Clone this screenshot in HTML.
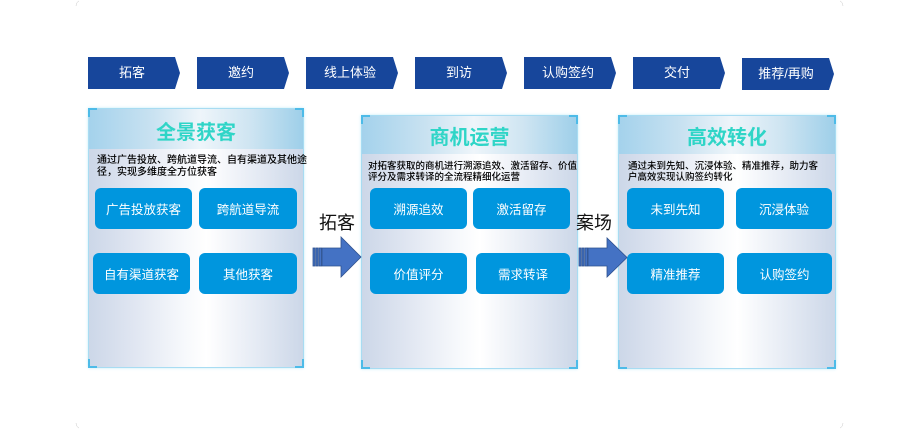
<!DOCTYPE html>
<html><head><meta charset="utf-8">
<style>
*{margin:0;padding:0;box-sizing:border-box}
body{width:920px;height:429px;background:#fff;position:relative;overflow:hidden;font-family:"Liberation Sans","Noto Sans CJK SC",sans-serif}
.chev{position:absolute;top:57px;width:92px;height:32px;background:#17469b;color:#fff;font-size:13px;line-height:32px;text-align:center;padding-right:4px;clip-path:polygon(0 0,calc(100% - 5px) 0,100% 50%,calc(100% - 5px) 100%,0 100%)}
.panel{position:absolute;border:1px solid #a8dcf2;box-shadow:0 0 3px #c4ecf9;background:linear-gradient(to right,#ccd7e8 0%,#dfe5f1 20%,#f7f9fc 45%,#ffffff 55%,#e3e9f3 80%,#ccd7e8 100%)}
.hdr{position:absolute;left:0;top:0;right:0;background:linear-gradient(to right,#a4d2ec 0%,#c9e2f1 30%,#eef5fa 52%,#cfe5f2 75%,#9ecfe9 100%)}
.ttl{position:absolute;left:0;right:0;text-align:center;font-weight:bold;font-size:20px;color:#2fd5c7;font-family:"Noto Sans CJK SC",sans-serif}
.desc{position:absolute;color:#000;white-space:nowrap;font-family:"Noto Sans CJK SC",sans-serif;font-weight:500}
.btn{position:absolute;background:#0096de;color:#fff;border-radius:6px;font-size:12.5px;text-align:center;width:97px;height:41px;line-height:41px;font-family:"Noto Sans CJK SC",sans-serif}
.c{position:absolute;width:9px;height:9px;border-color:#4dbbe8;border-style:solid;border-width:0}
.tl{left:-1px;top:-1px;border-left-width:2px;border-top-width:2px}
.tr{right:-1px;top:-1px;border-right-width:2px;border-top-width:2px}
.bl{left:-1px;bottom:-1px;border-left-width:2px;border-bottom-width:2px}
.br{right:-1px;bottom:-1px;border-right-width:2px;border-bottom-width:2px}
.lbl{position:absolute;font-size:18px;color:#111;font-family:"Noto Sans CJK SC",sans-serif;line-height:20px}
</style></head><body>

<div class="chev" style="left:88px">拓客</div>
<div class="chev" style="left:197px">邀约</div>
<div class="chev" style="left:306px">线上体验</div>
<div class="chev" style="left:415px">到访</div>
<div class="chev" style="left:524px">认购签约</div>
<div class="chev" style="left:633px">交付</div>
<div class="chev" style="left:742px;top:58px">推荐/再购</div>

<!-- Panel 1 -->
<div class="panel" style="left:88px;top:108px;width:216px;height:260px">
  <div class="hdr" style="height:40px"></div>
  <div class="ttl" style="top:9px;line-height:26px">全景获客</div>
  <div class="desc" style="left:8px;top:44px;font-size:10px;line-height:11.5px">通过广告投放、跨航道导流、自有渠道及其他途<br>径，实现多维度全方位获客</div>
  <div class="c tl"></div><div class="c tr"></div><div class="c bl"></div><div class="c br"></div>
</div>
<div class="btn" style="left:95px;top:188px">广告投放获客</div>
<div class="btn" style="left:199px;top:188px;width:98px">跨航道导流</div>
<div class="btn" style="left:93px;top:253px">自有渠道获客</div>
<div class="btn" style="left:199px;top:253px;width:98px">其他获客</div>

<!-- Panel 2 -->
<div class="panel" style="left:361px;top:115px;width:217px;height:254px">
  <div class="hdr" style="height:38px"></div>
  <div class="ttl" style="top:7px;line-height:26px">商机运营</div>
  <div class="desc" style="left:6px;top:44px;font-size:9.5px;line-height:11px">对拓客获取的商机进行溯源追效、激活留存、价值<br>评分及需求转译的全流程精细化运营</div>
  <div class="c tl"></div><div class="c tr"></div><div class="c bl"></div><div class="c br"></div>
</div>
<div class="btn" style="left:370px;top:188px">溯源追效</div>
<div class="btn" style="left:473px;top:188px">激活留存</div>
<div class="btn" style="left:370px;top:253px">价值评分</div>
<div class="btn" style="left:476px;top:253px;width:94px">需求转译</div>

<!-- Panel 3 -->
<div class="panel" style="left:618px;top:115px;width:218px;height:254px">
  <div class="hdr" style="height:38px"></div>
  <div class="ttl" style="top:7px;line-height:26px">高效转化</div>
  <div class="desc" style="left:9px;top:44px;font-size:9.5px;line-height:11px">通过未到先知、沉浸体验、精准推荐，助力客<br>户高效实现认购签约转化</div>
  <div class="c tl"></div><div class="c tr"></div><div class="c bl"></div><div class="c br"></div>
</div>
<div class="btn" style="left:627px;top:188px">未到先知</div>
<div class="btn" style="left:736px;top:188px;width:96px">沉浸体验</div>
<div class="btn" style="left:627px;top:253px">精准推荐</div>
<div class="btn" style="left:737px;top:253px;width:95px">认购签约</div>

<!-- Labels -->
<div class="lbl" style="left:319px;top:212px">拓客</div>
<div class="lbl" style="left:576px;top:212px">案场</div>

<!-- Arrows -->
<svg width="920" height="429" style="position:absolute;left:0;top:0" xmlns="http://www.w3.org/2000/svg">
  <g stroke="#2f528f" stroke-width="0.8" fill="#4472c4">
    <polygon points="322,248 341,248 341,237 361,257 341,277 341,266 322,266"/>
    <rect x="313" y="248" width="2" height="18"/>
    <rect x="316" y="248" width="2" height="18"/>
    <rect x="319" y="248" width="2.5" height="18"/>
    <polygon points="588,248 607,248 607,238 627,257.5 607,277 607,266 588,266"/>
    <rect x="579" y="248" width="2" height="18"/>
    <rect x="582" y="248" width="2" height="18"/>
    <rect x="585" y="248" width="2.5" height="18"/>
  </g>
  <g stroke="#c8c8c8" stroke-width="0.5" fill="none">
    <path d="M76,6 Q76.5,2 79,1"/>
    <path d="M840,1 Q842.5,2 843,6"/>
    <path d="M76,423 Q76.5,427 79,428"/>
    <path d="M840,428 Q842.5,427 843,423"/>
  </g>
</svg>
</body></html>
